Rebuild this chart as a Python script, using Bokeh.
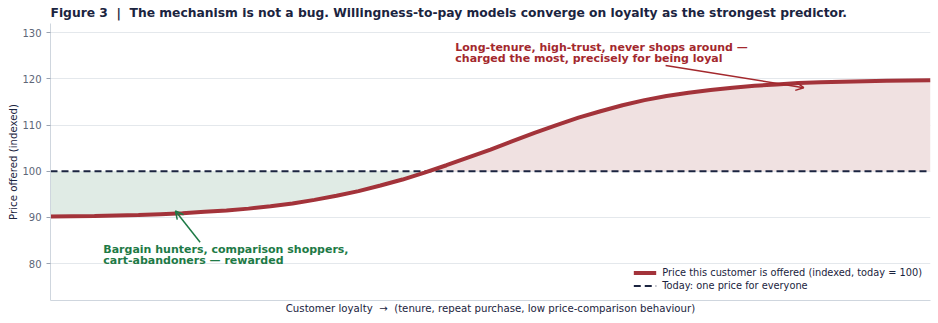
from bokeh.plotting import figure
from bokeh.models import Range1d, Arrow, OpenHead, Legend, LegendItem, FixedTicker
from bokeh.core.properties import value
from bokeh.embed import file_html
from bokeh.resources import INLINE

# Loyalty position (0 = least loyal, 1 = most loyal)
loyalty = [0.000, 0.025, 0.050, 0.075, 0.100, 0.125, 0.150, 0.175, 0.200, 0.225,
           0.250, 0.275, 0.300, 0.325, 0.350, 0.375, 0.400, 0.425, 0.450, 0.475,
           0.500, 0.525, 0.550, 0.575, 0.600, 0.625, 0.650, 0.675, 0.700, 0.725,
           0.750, 0.775, 0.800, 0.825, 0.850, 0.875, 0.900, 0.925, 0.950, 0.975, 1.000]
# Price offered, indexed (today = 100)
price_offered = [90.2, 90.25, 90.3, 90.4, 90.5, 90.7, 90.9, 91.2, 91.5, 91.9,
                 92.4, 93.0, 93.8, 94.7, 95.7, 96.9, 98.2, 99.7, 101.3, 103.0,
                 104.7, 106.5, 108.3, 110.0, 111.6, 113.0, 114.3, 115.4, 116.3, 117.0,
                 117.6, 118.1, 118.5, 118.8, 119.1, 119.3, 119.4, 119.5, 119.6, 119.65, 119.7]
today_price = 100
y_ticks = [80, 90, 100, 110, 120, 130]

FONT = "DejaVu Sans"
NAVY = "#1b2440"
RED = "#a3333a"
RED_TEXT = "#a3282d"
GREEN = "#1e7a46"
NBSP = "\u00a0"

p = figure(width=938, height=323, output_backend="svg", toolbar_location=None,
           x_range=Range1d(0, 1), y_range=Range1d(72, 132),
           min_border_left=50, min_border_right=8, min_border_top=0, min_border_bottom=23)

p.title.text = f"Figure 3{NBSP} |{NBSP} The mechanism is not a bug. Willingness-to-pay models converge on loyalty as the strongest predictor."
p.title.text_font = FONT
p.title.text_font_size = "12.3px"
p.title.text_color = NAVY
p.title.text_font_style = "bold"
p.title.offset = 0
p.title.standoff = 7

# Shaded gaps between offered price and today's single price
below = [min(v, today_price) for v in price_offered]
above = [max(v, today_price) for v in price_offered]
p.varea(x=loyalty, y1=below, y2=[today_price] * len(loyalty), fill_color="#e0ebe5", fill_alpha=1)
p.varea(x=loyalty, y1=[today_price] * len(loyalty), y2=above, fill_color="#f0e1e1", fill_alpha=1)

dash = p.line(x=[0, 1], y=[today_price, today_price], line_color=NAVY, line_width=2, line_dash="7 4")
curve = p.line(x=loyalty, y=price_offered, line_color=RED, line_width=4)

# Axes
p.xaxis.ticker = FixedTicker(ticks=[])
p.xaxis.axis_label = f"Customer loyalty {NBSP}\u2192{NBSP} (tenure, repeat purchase, low price-comparison behaviour)"
p.xaxis.axis_line_color = "#cfd6de"
p.xaxis.major_tick_line_color = None
p.xaxis.minor_tick_line_color = None
p.xaxis.major_label_standoff = 0
p.xaxis.axis_label_standoff = 2

p.yaxis.ticker = FixedTicker(ticks=y_ticks)
p.yaxis.axis_label = "Price offered (indexed)"
p.yaxis.axis_line_color = "#cfd6de"
p.yaxis.major_tick_line_color = "#9aa3b0"
p.yaxis.major_tick_out = 4
p.yaxis.major_tick_in = 0
p.yaxis.minor_tick_line_color = None
p.yaxis.major_label_text_color = "#5d6677"
p.yaxis.major_label_standoff = 5
p.yaxis.axis_label_standoff = 0

for ax in (p.xaxis[0], p.yaxis[0]):
    ax.axis_label_text_font = FONT
    ax.axis_label_text_font_size = "10.2px"
    ax.axis_label_text_font_style = "normal"
    ax.axis_label_text_color = NAVY
    ax.major_label_text_font = FONT
    ax.major_label_text_font_size = "10px"

p.xgrid.grid_line_color = None
p.ygrid.grid_line_color = "#e4e8ec"
p.outline_line_color = None

# Annotations
p.text(x=[0.46], y=[128.15], text=["Long-tenure, high-trust, never shops around \u2014\ncharged the most, precisely for being loyal"],
       text_font=value(FONT), text_font_size="11px", text_font_style="bold", text_color=RED_TEXT,
       text_baseline="top", text_line_height=0.85)
p.add_layout(Arrow(end=OpenHead(size=8, line_color=RED_TEXT, line_width=1.5),
                   x_start=0.699, y_start=122.9, x_end=0.856, y_end=118.1,
                   line_color=RED_TEXT, line_width=1.5))

p.text(x=[0.060], y=[84.4], text=["Bargain hunters, comparison shoppers,\ncart-abandoners \u2014 rewarded"],
       text_font=value(FONT), text_font_size="11px", text_font_style="bold", text_color=GREEN,
       text_baseline="top", text_line_height=0.85)
p.add_layout(Arrow(end=OpenHead(size=8, line_color=GREEN, line_width=1.5),
                   x_start=0.170, y_start=84.6, x_end=0.142, y_end=91.4,
                   line_color=GREEN, line_width=1.5))

legend = Legend(items=[LegendItem(label="Price this customer is offered (indexed, today = 100)", renderers=[curve]),
                       LegendItem(label="Today: one price for everyone", renderers=[dash])],
                location="bottom_right", border_line_color=None, background_fill_alpha=0.8,
                label_text_font=FONT, label_text_font_size="9.8px", label_text_color=NAVY,
                glyph_width=23, label_height=13, glyph_height=13, spacing=0, padding=4, margin=8,
                label_standoff=6)
p.add_layout(legend)

open("out.html", "w").write(file_html(p, INLINE))
